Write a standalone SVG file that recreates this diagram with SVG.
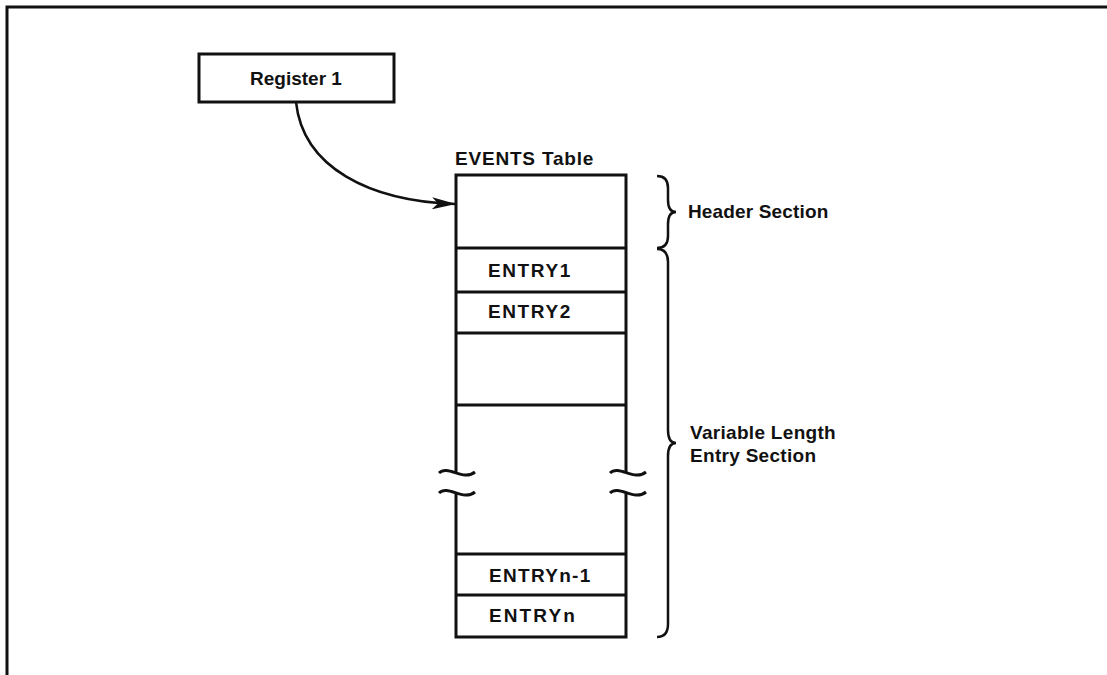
<svg xmlns="http://www.w3.org/2000/svg" width="1107" height="675" viewBox="0 0 1107 675">
<defs>
<style>
.t{font-family:"Liberation Sans",Arial,Helvetica,sans-serif;font-weight:bold;font-size:19px;fill:#111;letter-spacing:0.3px}
.e{letter-spacing:1.6px}
.box{fill:#fff;stroke:#111;stroke-width:3}
.ln{fill:none;stroke:#111;stroke-width:3}
.br{fill:none;stroke:#111;stroke-width:2.5}
</style>
<marker id="ah" markerWidth="24" markerHeight="12" refX="23" refY="6" orient="auto" markerUnits="userSpaceOnUse">
<path d="M0,0 L24,6 L0,12 L6,6 Z" fill="#111"/>
</marker>
</defs>
<rect width="1107" height="675" fill="#fff"/>
<path d="M7,675 L7,7 L1107,7" fill="none" stroke="#111" stroke-width="3"/>
<g id="register1">
<rect class="box" x="199" y="54" width="195" height="48"/>
<text class="t" x="250" y="85" style="letter-spacing:0">Register 1</text>
</g>
<g id="connectors">
<path d="M296,102 C303,168 370,201 455,204" fill="none" stroke="#111" stroke-width="2.5" marker-end="url(#ah)"/>
</g>
<g id="events-table">
<text class="t" x="455" y="165" style="letter-spacing:0.8px">EVENTS Table</text>
<path class="ln" d="M456,473 L456,175 L626,175 L626,473"/>
<path class="ln" d="M456,492 L456,637 L626,637 L626,492"/>
<path class="ln" d="M456,248 L626,248 M456,292 L626,292 M456,333 L626,333 M456,405 L626,405 M456,554 L626,554 M456,595 L626,595"/>
<path class="ln" d="M439,473 C448,464 463,482 475,472 M439,493 C448,484 463,502 475,492"/>
<path class="ln" d="M610,473 C619,464 634,482 646,472 M610,493 C619,484 634,502 646,492"/>
</g>
<g id="entry1"><text class="t e" x="488" y="277">ENTRY1</text></g>
<g id="entry2"><text class="t e" x="488" y="318">ENTRY2</text></g>
<g id="entryn-1"><text class="t e" x="489" y="582" style="letter-spacing:1.3px">ENTRYn-1</text></g>
<g id="entryn"><text class="t e" x="489" y="622" style="letter-spacing:2.1px">ENTRYn</text></g>
<g id="header-section">
<path class="br" d="M657,176 Q668,176 668,188 L668,200 Q668,212 676,212 Q668,212 668,224 L668,236 Q668,248 657,248"/>
<text class="t" x="688" y="218" style="letter-spacing:0.15px">Header Section</text>
</g>
<g id="entry-section">
<path class="br" d="M657,249 Q668,249 668,262 L668,430 Q668,443 676,443 Q668,443 668,456 L668,624 Q668,637 657,637"/>
<text class="t" x="690" y="439">Variable Length</text>
<text class="t" x="690" y="462">Entry Section</text>
</g>
</svg>
